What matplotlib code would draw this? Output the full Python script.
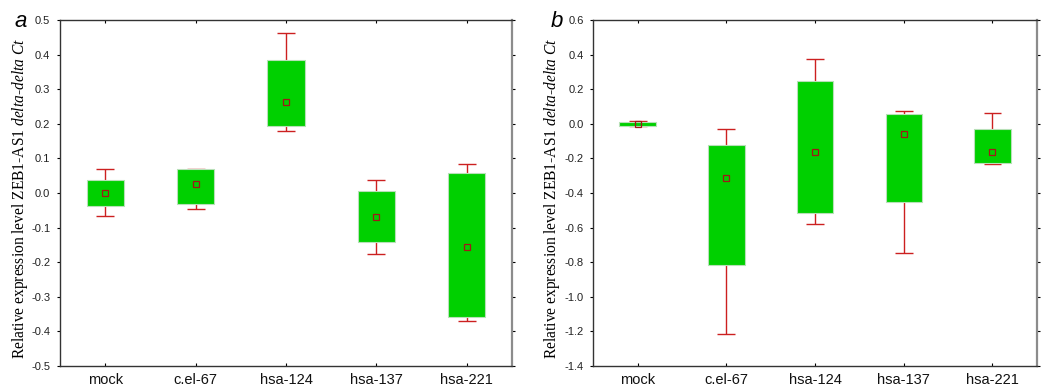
import matplotlib.pyplot as plt
import numpy as np

plt.rcParams['font.family'] = 'Liberation Sans'
plt.rcParams['mathtext.fontset'] = 'custom'
plt.rcParams['mathtext.it'] = 'Liberation Serif:italic'
plt.rcParams['mathtext.rm'] = 'Liberation Serif'

groups = ['mock', 'c.el-67', 'hsa-124', 'hsa-137', 'hsa-221']

# panel a
a_mean = [0.0, 0.026, 0.262, -0.068, -0.156]
a_box_lo = [-0.039, -0.032, 0.193, -0.142, -0.357]
a_box_hi = [0.038, 0.068, 0.384, 0.005, 0.058]
a_wh_lo = [-0.066, -0.047, 0.178, -0.176, -0.371]
a_wh_hi = [0.068, 0.069, 0.4625, 0.0375, 0.084]
a_ticks = [0.5, 0.4, 0.3, 0.2, 0.1, 0.0, -0.1, -0.2, -0.3, -0.4, -0.5]

# panel b
b_mean = [-0.002, -0.314, -0.165, -0.059, -0.163]
b_box_lo = [-0.013, -0.815, -0.514, -0.454, -0.224]
b_box_hi = [0.013, -0.125, 0.245, 0.059, -0.029]
b_wh_lo = [-0.015, -1.217, -0.580, -0.747, -0.234]
b_wh_hi = [0.015, -0.033, 0.372, 0.075, 0.063]
b_ticks = [0.6, 0.4, 0.2, 0.0, -0.2, -0.4, -0.6, -0.8, -1.0, -1.2, -1.4]

green = '#00d000'
red = '#cc2020'

fig = plt.figure(figsize=(10.54, 3.88), dpi=100)
ax_a = fig.add_axes([0.0569, 0.0567, 0.4289, 0.8918])
ax_b = fig.add_axes([0.5629, 0.0567, 0.4207, 0.8918])


def draw_panel(ax, mean, box_lo, box_hi, wh_lo, wh_hi, ticks, letter, letter_x, label_x):
    x = np.arange(len(groups))
    lo = np.array(box_lo)
    hi = np.array(box_hi)
    ax.bar(x, hi - lo, bottom=lo, width=0.41, color=green, edgecolor='#b8e0b8',
           linewidth=0.8, zorder=2)
    ax.vlines(x, wh_lo, lo, color=red, linewidth=1.0, zorder=1)
    ax.vlines(x, hi, wh_hi, color=red, linewidth=1.0, zorder=1)
    ax.hlines(wh_lo, x - 0.1, x + 0.1, color=red, linewidth=1.0, zorder=1)
    ax.hlines(wh_hi, x - 0.1, x + 0.1, color=red, linewidth=1.0, zorder=1)
    ax.plot(x, mean, linestyle='none', marker='s', markersize=4,
            markerfacecolor='none', markeredgecolor='#a01818', markeredgewidth=0.9, zorder=3)

    ax.set_xlim(-0.5, 4.5)
    ax.set_ylim(ticks[-1], ticks[0])
    ax.set_xticks(x)
    ax.set_xticklabels(groups, fontsize=10.5, color='#111111')
    ax.set_yticks(ticks)
    ax.set_yticklabels(['%.1f' % t for t in ticks], fontsize=8, color='#222222')
    ax.tick_params(axis='y', direction='out', length=2, width=0.8, right=True, pad=5)
    ax.tick_params(axis='x', direction='in', length=2, width=0.8, top=True, pad=5)
    for side in ['left', 'top', 'bottom']:
        ax.spines[side].set_color('#333333')
        ax.spines[side].set_linewidth(1.0)
    ax.spines['right'].set_color('#8c8c8c')
    ax.spines['right'].set_linewidth(1.6)

    ax.set_ylabel('Relative expression level ZEB1-AS1 $\\mathit{delta}$-$\\mathit{delta\\ Ct}$',
                  family='Liberation Serif', fontsize=11.2)
    ax.yaxis.set_label_coords(label_x, 0.485)
    ax.text(letter_x, 0.995, letter, transform=ax.transAxes, fontsize=16, style='italic',
            ha='center', va='center')


draw_panel(ax_a, a_mean, a_box_lo, a_box_hi, a_wh_lo, a_wh_hi, a_ticks, 'a', -0.087, -0.067)
draw_panel(ax_b, b_mean, b_box_lo, b_box_hi, b_wh_lo, b_wh_hi, b_ticks, 'b', -0.082, -0.070)

plt.savefig('out.png', dpi=100)
